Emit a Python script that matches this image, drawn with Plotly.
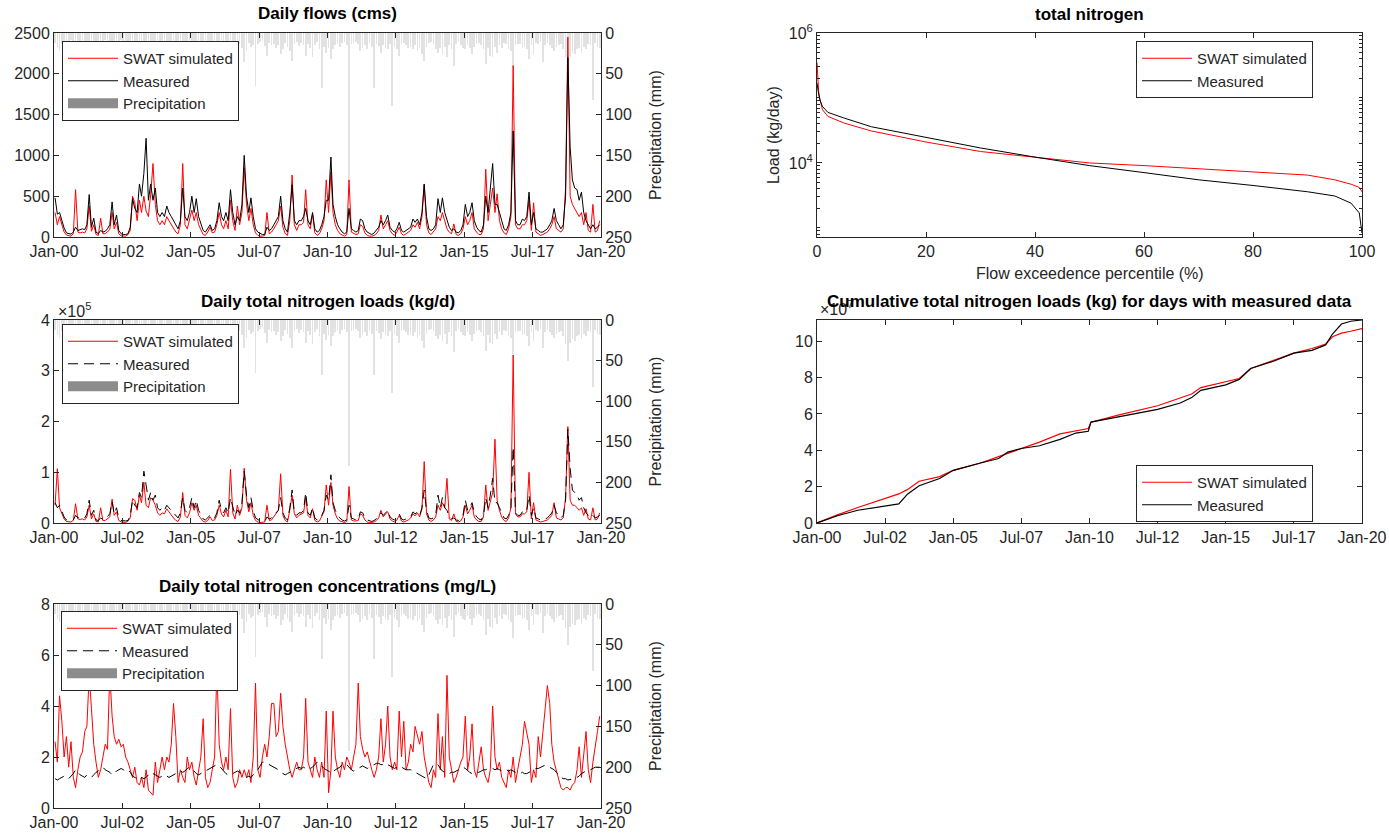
import plotly.graph_objects as go
import pandas as pd

W, H = 1389, 839

# ---------------- data ----------------
month_dates = (pd.date_range('2000-01-01', periods=240, freq='MS') + pd.Timedelta(days=14)).strftime('%Y-%m-%d').tolist()

tick_dates = ['2000-01-01', '2002-07-01', '2005-01-01', '2007-07-01', '2010-01-01',
              '2012-07-01', '2015-01-01', '2017-07-01', '2020-01-01']
tick_labels = ['Jan-00', 'Jul-02', 'Jan-05', 'Jul-07', 'Jan-10', 'Jul-12', 'Jan-15', 'Jul-17', 'Jan-20']

precip_mm = [
    12, 18, 22, 14, 25, 16, 12, 9, 20, 15, 11, 17,
    14, 10, 18, 24, 16, 20, 11, 15, 26, 12, 9, 14,
    12, 20, 11, 17, 14, 8, 18, 12, 15, 22, 18, 13,
    16, 22, 14, 26, 20, 17, 24, 30, 15, 11, 14, 18,
    12, 15, 18, 14, 20, 11, 16, 24, 32, 13, 10, 17,
    20, 13, 16, 12, 15, 25, 10, 14, 18, 11, 15, 30,
    18, 11, 14, 20, 17, 32, 15, 12, 26, 14, 18, 35,
    22, 12, 17, 15, 65, 14, 11, 10, 16, 28, 12, 15,
    14, 18, 15, 26, 20, 12, 17, 22, 34, 14, 11, 16,
    12, 15, 28, 14, 18, 30, 15, 11, 20, 68, 17, 25,
    18, 32, 20, 15, 14, 17, 12, 11, 15, 180, 14, 12,
    11, 14, 22, 18, 15, 20, 12, 17, 68, 14, 16, 24,
    15, 18, 20, 14, 90, 17, 20, 28, 14, 12, 15, 18,
    17, 20, 15, 22, 18, 26, 34, 17, 12, 11, 14, 20,
    24, 18, 26, 17, 30, 15, 20, 40, 14, 11, 15, 18,
    20, 15, 18, 26, 17, 14, 12, 15, 20, 38, 18, 28,
    30, 17, 24, 15, 18, 12, 14, 20, 22, 42, 15, 14,
    14, 18, 17, 20, 32, 15, 26, 12, 14, 11, 35, 15,
    12, 15, 18, 22, 17, 15, 14, 20, 30, 50, 28, 24,
    26, 20, 18, 24, 17, 20, 14, 15, 82, 12, 17, 18,
]

flow_sim_cms = [
    300, 150, 250, 150, 60, 25, 15, 10, 40, 580, 60, 50,
    60, 50, 100, 380, 70, 150, 30, 20, 230, 40, 40, 60,
    90, 300, 100, 180, 40, 15, 10, 10, 30, 80, 500, 420,
    200, 450, 300, 500, 320, 250, 520, 900, 400, 200, 150, 200,
    150, 250, 200, 150, 100, 60, 40, 150, 900, 150, 100, 200,
    330, 200, 300, 150, 80, 30, 20, 60, 120, 50, 60, 150,
    300, 150, 100, 200, 100, 450, 200, 80, 380, 150, 300, 850,
    400, 200, 350, 150, 50, 20, 10, 10, 20, 300, 40, 60,
    100, 150, 200, 380, 120, 40, 20, 200, 760, 150, 80, 150,
    150, 180, 580, 150, 100, 280, 50, 20, 40, 100, 200, 700,
    300, 800, 300, 150, 80, 40, 20, 10, 30, 700, 60, 40,
    30, 40, 150, 130, 50, 20, 10, 10, 20, 40, 80, 270,
    100, 150, 200, 80, 40, 20, 60, 120, 40, 20, 40, 60,
    80, 150, 120, 180, 100, 250, 640, 150, 50, 30, 60, 100,
    250, 200, 300, 200, 100, 60, 40, 160, 30, 20, 40, 100,
    250, 150, 200, 300, 100, 60, 30, 30, 100, 830, 200, 400,
    600, 300, 530, 200, 100, 50, 30, 100, 250, 2100, 150, 100,
    100, 150, 150, 200, 450, 80, 420, 60, 40, 20, 30, 40,
    60, 100, 150, 250, 100, 80, 60, 100, 600, 2450, 500, 400,
    350, 300, 250, 300, 150, 300, 80, 60, 400, 60, 80, 200,
]

flow_obs_cms = [
    480, 280, 300, 200, 110, 50, 40, 35, 60, 120, 80, 90,
    100, 90, 150, 520, 120, 230, 60, 40, 80, 60, 70, 100,
    150, 430, 150, 270, 80, 40, 30, 30, 40, 120, 470, 350,
    300, 650, 500, 780, 1210, 450, 650, 450, 600, 300, 250, 300,
    250, 380, 300, 250, 200, 150, 100, 200, 600, 250, 200, 300,
    500, 300, 470, 250, 150, 80, 60, 100, 150, 80, 100, 200,
    420, 250, 200, 300, 200, 580, 300, 150, 250, 200, 400, 1000,
    500, 300, 480, 250, 100, 60, 40, 30, 30, 120, 80, 100,
    150, 200, 250, 500, 200, 100, 60, 300, 640, 200, 150, 200,
    200, 250, 350, 200, 150, 300, 100, 60, 80, 150, 250, 450,
    450, 980, 400, 250, 150, 100, 60, 40, 60, 350, 100, 80,
    60, 80, 220, 200, 100, 60, 40, 30, 50, 80, 120, 200,
    150, 200, 270, 120, 80, 60, 100, 180, 80, 60, 80, 100,
    120, 220, 180, 220, 150, 300, 650, 250, 100, 80, 100, 150,
    470, 300, 480, 300, 200, 120, 80, 100, 60, 50, 80, 150,
    400, 250, 300, 420, 200, 120, 80, 60, 150, 500, 300, 600,
    900, 400, 400, 300, 200, 100, 80, 150, 300, 1300, 200, 150,
    150, 220, 200, 250, 550, 150, 300, 100, 80, 60, 60, 80,
    100, 150, 200, 350, 200, 150, 100, 150, 500, 2200, 1100, 700,
    600, 580, 450, 550, 300, 200, 150, 100, 150, 100, 120, 150,
]

load_sim_1e5 = [
    0.35, 1.07, 0.30, 0.18, 0.08, 0.03, 0.02, 0.02, 0.05, 0.38, 0.08, 0.07,
    0.08, 0.06, 0.12, 0.35, 0.08, 0.18, 0.03, 0.02, 0.30, 0.05, 0.05, 0.08,
    0.12, 0.47, 0.15, 0.22, 0.05, 0.02, 0.01, 0.01, 0.04, 0.10, 0.48, 0.45,
    0.25, 0.55, 0.40, 0.80, 0.35, 0.30, 0.50, 0.45, 0.35, 0.20, 0.15, 0.20,
    0.18, 0.28, 0.22, 0.15, 0.10, 0.05, 0.03, 0.12, 0.60, 0.15, 0.10, 0.20,
    0.40, 0.25, 0.35, 0.15, 0.08, 0.03, 0.02, 0.05, 0.12, 0.05, 0.06, 0.15,
    0.35, 0.18, 0.12, 0.25, 0.12, 1.06, 0.20, 0.08, 0.35, 0.15, 0.30, 1.08,
    0.45, 0.22, 0.40, 0.15, 0.05, 0.02, 0.01, 0.01, 0.02, 0.35, 0.05, 0.06,
    0.12, 0.18, 0.25, 0.97, 0.15, 0.05, 0.02, 0.25, 0.55, 0.18, 0.10, 0.15,
    0.18, 0.20, 0.50, 0.15, 0.10, 0.28, 0.05, 0.02, 0.04, 0.12, 0.22, 0.75,
    0.35, 0.80, 0.35, 0.18, 0.08, 0.04, 0.02, 0.01, 0.03, 0.72, 0.06, 0.04,
    0.04, 0.05, 0.18, 0.15, 0.06, 0.02, 0.01, 0.01, 0.02, 0.05, 0.10, 0.25,
    0.12, 0.18, 0.22, 0.08, 0.04, 0.02, 0.06, 0.15, 0.04, 0.02, 0.04, 0.06,
    0.10, 0.18, 0.14, 0.20, 0.12, 0.28, 1.21, 0.18, 0.06, 0.03, 0.06, 0.12,
    0.35, 0.25, 0.40, 0.30, 0.88, 0.08, 0.05, 0.18, 0.03, 0.02, 0.04, 0.12,
    0.35, 0.18, 0.25, 0.35, 0.12, 0.06, 0.03, 0.03, 0.12, 0.75, 0.25, 0.45,
    0.60, 1.65, 0.45, 0.25, 0.12, 0.05, 0.03, 0.10, 0.30, 3.31, 0.18, 0.12,
    0.12, 0.18, 0.18, 0.22, 1.00, 0.08, 0.40, 0.06, 0.04, 0.02, 0.03, 0.04,
    0.06, 0.10, 0.15, 0.40, 0.10, 0.08, 0.06, 0.10, 0.50, 1.90, 0.45, 0.35,
    0.35, 0.30, 0.25, 0.30, 0.15, 0.28, 0.08, 0.06, 0.30, 0.06, 0.08, 0.20,
]

load_obs_1e5 = [
    0.40, 0.30, 0.35, 0.25, 0.12, 0.06, 0.05, 0.04, 0.06, 0.15, 0.10, 0.12,
    0.12, 0.10, 0.18, 0.45, 0.15, 0.25, 0.06, 0.05, 0.10, 0.07, 0.08, 0.12,
    0.18, 0.42, 0.18, 0.30, 0.10, 0.05, 0.04, 0.04, 0.05, 0.15, 0.45, 0.35,
    0.30, 0.60, 0.50, 1.02, 0.75, 0.45, 0.60, 0.45, 0.55, 0.30, 0.25, 0.30,
    0.25, 0.35, 0.30, 0.25, 0.20, 0.15, 0.10, 0.20, 0.50, 0.25, 0.20, 0.30,
    0.50, 0.30, 0.45, 0.25, 0.15, 0.08, 0.06, 0.10, 0.15, 0.08, 0.10, 0.20,
    0.45, 0.25, 0.20, 0.30, 0.20, 0.50, 0.30, 0.15, 0.25, 0.20, 0.40, 1.02,
    0.55, 0.30, 0.50, 0.25, 0.10, 0.06, 0.04, 0.03, 0.03, 0.12, 0.08, 0.10,
    0.15, 0.20, 0.25, 0.50, 0.20, 0.10, 0.06, 0.30, 0.65, 0.20, 0.15, 0.20,
    0.20, 0.25, 0.60, 0.20, 0.15, 0.30, 0.10, 0.06, 0.08, 0.15, 0.25, 0.55,
    0.45, 0.95, 0.40, 0.25, 0.15, 0.10, 0.06, 0.04, 0.06, 0.35, 0.10, 0.08,
    0.06, 0.08, 0.22, 0.20, 0.10, 0.06, 0.04, 0.03, 0.05, 0.08, 0.12, 0.20,
    0.15, 0.20, 0.25, 0.12, 0.08, 0.06, 0.10, 0.18, 0.08, 0.06, 0.08, 0.10,
    0.12, 0.22, 0.18, 0.22, 0.15, 0.30, 0.65, 0.25, 0.10, 0.08, 0.10, 0.15,
    0.55, 0.30, 0.50, 0.30, 0.25, 0.12, 0.08, 0.10, 0.06, 0.05, 0.08, 0.15,
    0.45, 0.25, 0.30, 0.40, 0.20, 0.12, 0.08, 0.06, 0.15, 0.50, 0.30, 0.55,
    0.88, 0.40, 0.40, 0.30, 0.20, 0.10, 0.08, 0.15, 0.30, 1.50, 0.20, 0.15,
    0.15, 0.22, 0.20, 0.25, 0.55, 0.15, 0.30, 0.10, 0.08, 0.06, 0.06, 0.08,
    0.10, 0.15, 0.20, 0.35, 0.20, 0.15, 0.10, 0.15, 0.45, 1.85, 1.08, 0.65,
    0.60, 0.55, 0.45, 0.50, 0.30, 0.20, 0.15, 0.10, 0.15, 0.10, 0.12, 0.15,
]

conc_sim_mgl = [
    2.6, 1.8, 4.4, 3.4, 2.0, 2.8, 1.6, 2.6, 1.2, 0.8, 1.5, 2.0,
    2.2, 3.0, 3.2, 5.2, 3.9, 2.5, 1.8, 1.2, 1.5, 2.0, 2.5, 2.3,
    5.3, 3.6, 2.8, 2.5, 2.7, 2.4, 2.5, 2.0, 1.8, 1.5, 1.2, 1.6,
    1.0, 0.9, 1.2, 0.8, 1.5, 0.7, 0.6, 0.5, 1.8, 1.0, 1.5, 2.0,
    1.5, 2.0, 1.8, 2.5, 4.1, 2.8, 1.0, 1.5, 1.2, 1.0, 2.0, 1.5,
    1.8, 1.2, 0.9, 1.5, 2.0, 3.5, 1.2, 0.8, 1.0, 1.5, 2.0, 5.5,
    2.5, 1.8, 1.5, 2.0, 1.5, 3.9, 1.2, 0.8, 1.0, 1.5, 1.2, 1.5,
    1.2, 1.5, 1.0, 2.0, 4.9, 1.5, 1.2, 2.0, 2.5, 2.0, 2.8, 4.1,
    4.1, 2.8, 3.0, 4.5, 3.2, 2.5, 2.0, 1.5, 1.2, 1.5, 1.8, 1.5,
    1.5, 2.0, 4.3, 1.8, 1.5, 1.2, 2.0, 1.5, 1.2, 1.8, 1.2, 3.8,
    0.6, 1.5, 3.8, 2.0, 1.5, 1.2, 1.8, 1.5, 2.0, 1.8, 1.5, 2.0,
    2.5, 4.9, 2.8, 2.3, 2.0, 2.2, 1.8, 1.5, 1.2, 1.5, 2.0, 3.5,
    1.8, 2.5, 4.0, 2.0, 1.5, 1.8, 1.5, 3.8, 2.0, 3.4, 1.5, 1.8,
    2.5, 2.2, 3.2, 2.8, 2.5, 3.0, 2.0, 1.5, 1.0, 0.8, 1.5, 1.2,
    3.7, 1.5, 2.8, 1.2, 5.2, 2.0, 1.5, 1.0, 1.2, 1.5, 1.8, 2.0,
    3.6, 1.5, 2.0, 3.3, 1.5, 1.2, 1.8, 2.4, 1.5, 1.2, 1.0, 1.5,
    4.0, 2.0, 1.5, 1.8, 1.2, 1.0, 0.8, 1.5, 1.2, 2.0, 1.0, 1.5,
    2.0, 2.5, 3.4, 3.0, 2.5, 1.0, 1.5, 1.2, 2.8, 2.0, 3.0, 3.8,
    4.8, 4.1, 2.5, 1.8, 1.5, 1.2, 0.8, 0.7, 0.8, 0.8, 0.7, 0.9,
    1.0, 1.5, 2.4, 1.2, 2.0, 3.0, 1.5, 1.0, 1.8, 2.5, 3.0, 3.6,
]

conc_obs_mgl = [
    1.15, 1.10, 1.15, 1.20, 1.25, 1.20, 1.15, 1.25, 1.35, 1.50, 1.40, 1.30,
    1.25, 1.20, 1.30, 1.25, 1.20, 1.30, 1.40, 1.45, 1.55, 1.60, 1.50, 1.45,
    1.40, 1.30, 1.35, 1.45, 1.50, 1.55, 1.50, 1.45, 1.50, 1.40, 1.25, 1.20,
    1.15, 1.10, 1.20, 1.15, 1.20, 1.30, 1.40, 1.35, 1.30, 1.25, 1.20, 1.25,
    1.30, 1.25, 1.20, 1.25, 1.30, 1.35, 1.40, 1.45, 1.40, 1.45, 1.55, 1.60,
    1.55, 1.45, 1.35, 1.30, 1.35, 1.40, 1.45, 1.50, 1.55, 1.60, 1.65, 1.70,
    1.65, 1.55, 1.45, 1.35, 1.30, 1.30, 1.35, 1.40, 1.45, 1.40, 1.30, 1.25,
    1.20, 1.25, 1.20, 1.30, 1.40, 1.50, 1.65, 1.80, 1.80, 1.75, 1.70, 1.65,
    1.60, 1.55, 1.50, 1.45, 1.35, 1.30, 1.35, 1.40, 1.45, 1.50, 1.55, 1.60,
    1.55, 1.60, 1.55, 1.50, 1.55, 1.60, 1.70, 1.80, 1.75, 1.65, 1.55, 1.50,
    1.45, 1.35, 1.40, 1.50, 1.55, 1.60, 1.70, 1.75, 1.70, 1.60, 1.50, 1.45,
    1.50, 1.55, 1.60, 1.65, 1.60, 1.55, 1.60, 1.65, 1.70, 1.75, 1.75, 1.70,
    1.70, 1.75, 1.70, 1.65, 1.60, 1.55, 1.60, 1.65, 1.60, 1.55, 1.50, 1.50,
    1.50, 1.45, 1.40, 1.35, 1.30, 1.25, 1.20, 1.15, 1.30, 1.50, 1.70, 1.75,
    1.70, 1.55, 1.45, 1.40, 1.35, 1.35, 1.40, 1.40, 1.45, 1.50, 1.55, 1.60,
    1.55, 1.45, 1.40, 1.35, 1.35, 1.40, 1.40, 1.45, 1.50, 1.50, 1.55, 1.55,
    1.55, 1.50, 1.55, 1.50, 1.45, 1.45, 1.50, 1.45, 1.50, 1.45, 1.40, 1.40,
    1.35, 1.40, 1.35, 1.35, 1.40, 1.45, 1.50, 1.55, 1.55, 1.60, 1.65, 1.68,
    1.65, 1.60, 1.55, 1.50, 1.40, 1.30, 1.20, 1.15, 1.15, 1.10, 1.12, 1.15,
    1.15, 1.20, 1.25, 1.35, 1.40, 1.45, 1.50, 1.50, 1.55, 1.60, 1.60, 1.60,
]

fdc_percentile = [0, 0.1, 0.3, 0.5, 1, 2, 5, 10, 20, 30, 40, 50, 60, 70, 80, 90, 95, 98, 99.5, 100]
fdc_sim_kgday = [3.5e5, 2.0e5, 1.26e5, 1.0e5, 6.6e4, 5.2e4, 4.1e4, 3.1e4, 2.1e4, 1.5e4, 1.23e4,
                 1.0e4, 9.1e3, 8.1e3, 7.2e3, 6.5e3, 5.5e3, 4.7e3, 4.2e3, 3.6e3]
fdc_obs_kgday = [1.7e5, 1.4e5, 1.15e5, 9.5e4, 7.4e4, 6.0e4, 4.9e4, 3.6e4, 2.45e4, 1.7e4, 1.23e4,
                 9.1e3, 7.1e3, 5.5e3, 4.5e3, 3.6e3, 3.1e3, 2.4e3, 1.7e3, 8.3e2]

cum_dates = ['2000-01-01', '2000-10-01', '2001-07-01', '2002-07-01', '2003-01-01', '2003-05-01',
             '2003-10-01', '2004-07-01', '2005-01-01', '2006-01-01', '2006-09-01', '2007-01-01',
             '2007-07-01', '2008-03-01', '2008-12-01', '2009-07-01', '2009-12-15', '2010-01-20',
             '2011-02-01', '2012-07-01', '2013-05-01', '2013-10-01', '2014-02-01', '2015-01-01',
             '2015-07-01', '2015-12-01', '2016-10-01', '2017-07-01', '2018-03-01', '2018-09-01',
             '2018-12-01', '2019-04-01', '2019-08-01', '2020-01-01']
cum_sim_1e7 = [0, 0.45, 0.85, 1.35, 1.6, 1.85, 2.3, 2.55, 2.9, 3.3, 3.65, 3.8, 4.1, 4.45, 4.9, 5.05,
               5.2, 5.55, 5.95, 6.45, 6.9, 7.1, 7.45, 7.75, 7.95, 8.5, 8.95, 9.35, 9.6, 9.85,
               10.25, 10.45, 10.55, 10.7]
cum_obs_1e7 = [0, 0.4, 0.7, 0.95, 1.05, 1.6, 2.05, 2.45, 2.9, 3.3, 3.55, 3.9, 4.1, 4.25, 4.6, 4.95,
               5.05, 5.55, 5.85, 6.25, 6.6, 6.9, 7.3, 7.6, 7.9, 8.5, 8.9, 9.35, 9.5, 9.8,
               10.4, 10.95, 11.1, 11.17]

# ---------------- styling helpers ----------------
FONT = 'Liberation Sans'
AX = '#262626'
RED = '#ff0000'
BLK = '#000000'
PRECIP_BAR = '#e2e2e2'
PRECIP_LEG = '#8c8c8c'


def axis(**kw):
    d = dict(showline=True, linecolor=AX, linewidth=1, ticks='inside', ticklen=5, tickwidth=1,
             tickcolor=AX, tickfont=dict(family=FONT, size=16, color=AX), showgrid=False,
             zeroline=False, automargin=False)
    d.update(kw)
    return d


def ydom(top, bot):
    return [1 - bot / H, 1 - top / H]


xL = [54 / W, 601 / W]
xR = [817 / W, 1362 / W]
r1, r2, r3 = ydom(33, 237), ydom(320, 523), ydom(604, 808)
date_range = ['2000-01-01', '2020-01-01']
precip_ticks = [0, 50, 100, 150, 200, 250]

fig = go.Figure()

panels = [
    ('x', 'y', 'y2', 'legend', flow_sim_cms, flow_obs_cms, 'solid'),
    ('x2', 'y3', 'y4', 'legend2', load_sim_1e5, load_obs_1e5, '10px,6px'),
    ('x3', 'y5', 'y6', 'legend3', conc_sim_mgl, conc_obs_mgl, '10px,6px'),
]
for xa, yp, yd, lg, sim, obs, dash in panels:
    fig.add_trace(go.Bar(x=month_dates, y=precip_mm, xaxis=xa, yaxis=yp, width=0.8e9,
                         marker=dict(color=PRECIP_BAR, line=dict(width=0)), showlegend=False,
                         legend=lg))
    fig.add_trace(go.Scatter(x=month_dates, y=sim, xaxis=xa, yaxis=yd, mode='lines',
                             line=dict(color=RED, width=1), name='SWAT simulated', legend=lg))
    fig.add_trace(go.Scatter(x=month_dates, y=obs, xaxis=xa, yaxis=yd, mode='lines',
                             line=dict(color=BLK, width=1, dash=dash), name='Measured', legend=lg))
    fig.add_trace(go.Scatter(x=[None], y=[None], xaxis=xa, yaxis=yd, mode='lines',
                             line=dict(color=PRECIP_LEG, width=12), name='Precipitation', legend=lg))

fig.add_trace(go.Scatter(x=fdc_percentile, y=fdc_sim_kgday, xaxis='x4', yaxis='y7', mode='lines',
                         line=dict(color=RED, width=1), name='SWAT simulated', legend='legend4'))
fig.add_trace(go.Scatter(x=fdc_percentile, y=fdc_obs_kgday, xaxis='x4', yaxis='y7', mode='lines',
                         line=dict(color=BLK, width=1), name='Measured', legend='legend4'))

fig.add_trace(go.Scatter(x=cum_dates, y=cum_sim_1e7, xaxis='x5', yaxis='y8', mode='lines',
                         line=dict(color=RED, width=1.2), name='SWAT simulated', legend='legend5'))
fig.add_trace(go.Scatter(x=cum_dates, y=cum_obs_1e7, xaxis='x5', yaxis='y8', mode='lines',
                         line=dict(color=BLK, width=1.2), name='Measured', legend='legend5'))

minor_log = [k * 10 ** e for e in (2, 3, 4, 5) for k in range(2, 10)] + [1e3, 1e5]


def date_x(dom, anchor):
    return axis(domain=dom, anchor=anchor, type='date', range=date_range, tickvals=tick_dates,
                ticktext=tick_labels, mirror='ticks')


layout = dict(
    template='none',
    width=W, height=H, margin=dict(l=0, r=0, t=0, b=0, pad=0), autosize=False,
    paper_bgcolor='white', plot_bgcolor='white', bargap=0,
    xaxis=date_x(xL, 'y'),
    yaxis=axis(domain=r1, anchor='x', side='right', range=[250, 0], tickvals=precip_ticks),
    yaxis2=axis(anchor='x', overlaying='y', side='left', range=[0, 2500],
                tickvals=[0, 500, 1000, 1500, 2000, 2500]),
    xaxis2=date_x(xL, 'y3'),
    yaxis3=axis(domain=r2, anchor='x2', side='right', range=[250, 0], tickvals=precip_ticks),
    yaxis4=axis(anchor='x2', overlaying='y3', side='left', range=[0, 4], tickvals=[0, 1, 2, 3, 4]),
    xaxis3=date_x(xL, 'y5'),
    yaxis5=axis(domain=r3, anchor='x3', side='right', range=[250, 0], tickvals=precip_ticks),
    yaxis6=axis(anchor='x3', overlaying='y5', side='left', range=[0, 8], tickvals=[0, 2, 4, 6, 8]),
    xaxis4=axis(domain=xR, anchor='y7', range=[0, 100], tickvals=[0, 20, 40, 60, 80, 100],
                mirror='ticks'),
    yaxis7=axis(domain=r1, anchor='x4', type='log', range=[2.86, 6], tickvals=[1e4, 1e6],
                ticktext=['10<sup>4</sup>', '10<sup>6</sup>'], mirror='ticks',
                minor=dict(ticks='inside', ticklen=3, tickcolor=AX, tickvals=minor_log)),
    xaxis5=date_x(xR, 'y8'),
    yaxis8=axis(domain=r2, anchor='x5', range=[0, 11.17], tickvals=[0, 2, 4, 6, 8, 10],
                mirror='ticks'),
)

leg_common = dict(xanchor='left', yanchor='top', bgcolor='white', bordercolor=AX, borderwidth=1,
                  font=dict(family=FONT, size=15, color=AX), itemwidth=50, tracegroupgap=0)
layout['legend'] = dict(x=62 / W, y=1 - 41 / H, **leg_common)
layout['legend2'] = dict(x=62 / W, y=1 - 324 / H, **leg_common)
layout['legend3'] = dict(x=61 / W, y=1 - 611 / H, **leg_common)
layout['legend4'] = dict(x=1136 / W, y=1 - 41 / H, **leg_common)
layout['legend5'] = dict(x=1136 / W, y=1 - 465 / H, **leg_common)


def ann(text, x, y, size=16, bold=False, angle=0, color=AX, xanchor='center'):
    t = f'<b>{text}</b>' if bold else text
    return dict(text=t, x=x / W, y=1 - y / H, xref='paper', yref='paper', showarrow=False,
                textangle=angle, xanchor=xanchor, yanchor='middle',
                font=dict(family=FONT, size=size, color=color))


annotations = [
    ann('×10<sup>5</sup>', 56, 310, xanchor='left'),
    ann('×10<sup>7</sup>', 818, 308, xanchor='left'),
    ann('Daily flows (cms)', 327.5, 14, size=17, bold=True, color='black'),
    ann('Daily total nitrogen loads (kg/d)', 327.5, 301, size=17, bold=True, color='black'),
    ann('Daily total nitrogen concentrations (mg/L)', 327.5, 586, size=17, bold=True, color='black'),
    ann('total nitrogen', 1089.5, 15, size=17, bold=True, color='black'),
    ann('Cumulative total nitrogen loads (kg) for days with measured data', 1089.5, 302, size=17,
        bold=True, color='black'),
    ann('Precipitation (mm)', 655, 135, angle=-90),
    ann('Precipitation (mm)', 655, 421.5, angle=-90),
    ann('Precipitation (mm)', 655, 706, angle=-90),
    ann('Load (kg/day)', 773, 135, angle=-90),
    ann('Flow exceedence percentile (%)', 1089.5, 273),
]
layout['annotations'] = annotations

fig.update_layout(**layout)
fig.write_html('out.html')
